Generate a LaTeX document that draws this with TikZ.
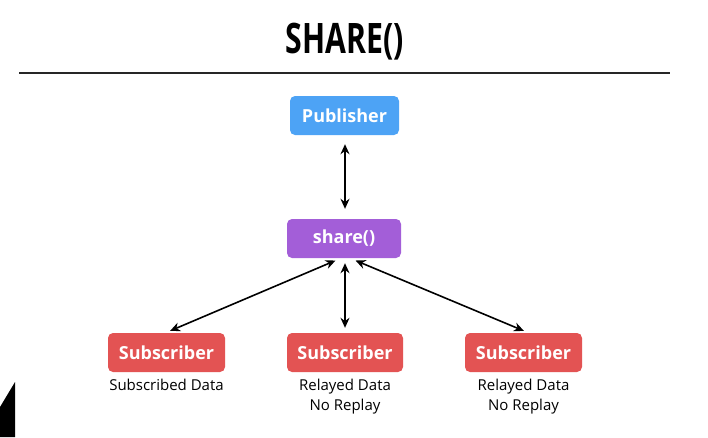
\documentclass[tikz,border=0pt]{standalone}
\usepackage{fontspec}
\setmainfont{Open Sans}
\usetikzlibrary{arrows.meta}
\definecolor{pubblue}{HTML}{4DA3F5}
\definecolor{sharepurple}{HTML}{A35ED8}
\definecolor{subred}{HTML}{E35353}
\tikzset{
  box/.style={rounded corners=5pt, minimum height=39pt, inner sep=0pt, text=white, font=\fontsize{18}{21}\selectfont\bfseries},
  lbl/.style={align=center, font=\fontsize{15}{20}\selectfont, inner sep=0pt, anchor=north},
  conn/.style={{Stealth[length=10pt,width=9pt]}-{Stealth[length=10pt,width=9pt]}, line width=1.6pt},
}
\begin{document}
\begin{tikzpicture}[x=1pt,y=-1pt]
\useasboundingbox (0,0) rectangle (708,437);
\node[font=\fontsize{42}{44}\selectfont\bfseries, xscale=0.72, inner sep=0pt] (title) at (345,42) {SHARE()};
\coordinate (l1) at (19,73);
\coordinate (l2) at (670,73);
\draw[line width=2pt, black!85] (l1) -- (l2);
\node[box, fill=pubblue, minimum width=109pt] (pub) at (344.5,115.5) {Publisher};
\node[box, fill=sharepurple, minimum width=114pt] (share) at (344,238.5) {share()};
\node[box, fill=subred, minimum width=117pt] (s1) at (166.5,352.5) {Subscriber};
\node[box, fill=subred, minimum width=116pt] (s2) at (345,352.5) {Subscriber};
\node[box, fill=subred, minimum width=117pt] (s3) at (523.5,352.5) {Subscriber};
\node[lbl] (t1) at (166.5,379) {Subscribed Data};
\node[lbl] (t2) at (345,379) {Relayed Data\\No Replay};
\node[lbl] (t3) at (523.5,379) {Relayed Data\\No Replay};
\draw[conn, shorten <=9pt, shorten >=10pt] (pub.south -| 345,0) -- (share.north -| 345,0);
\draw[conn, shorten <=6pt, shorten >=5pt] ([xshift=-3pt]share.south) -- ([xshift=-1pt]s1.north);
\draw[conn, shorten <=5pt, shorten >=5pt] (share.south -| s2.north) -- (s2.north);
\draw[conn, shorten <=6pt, shorten >=5pt] ([xshift=6pt]share.south) -- ([xshift=5pt]s3.north);
\fill[black] (0,407) -- (15,382) -- (15,437) -- (0,437) -- cycle;
\end{tikzpicture}
\end{document}
